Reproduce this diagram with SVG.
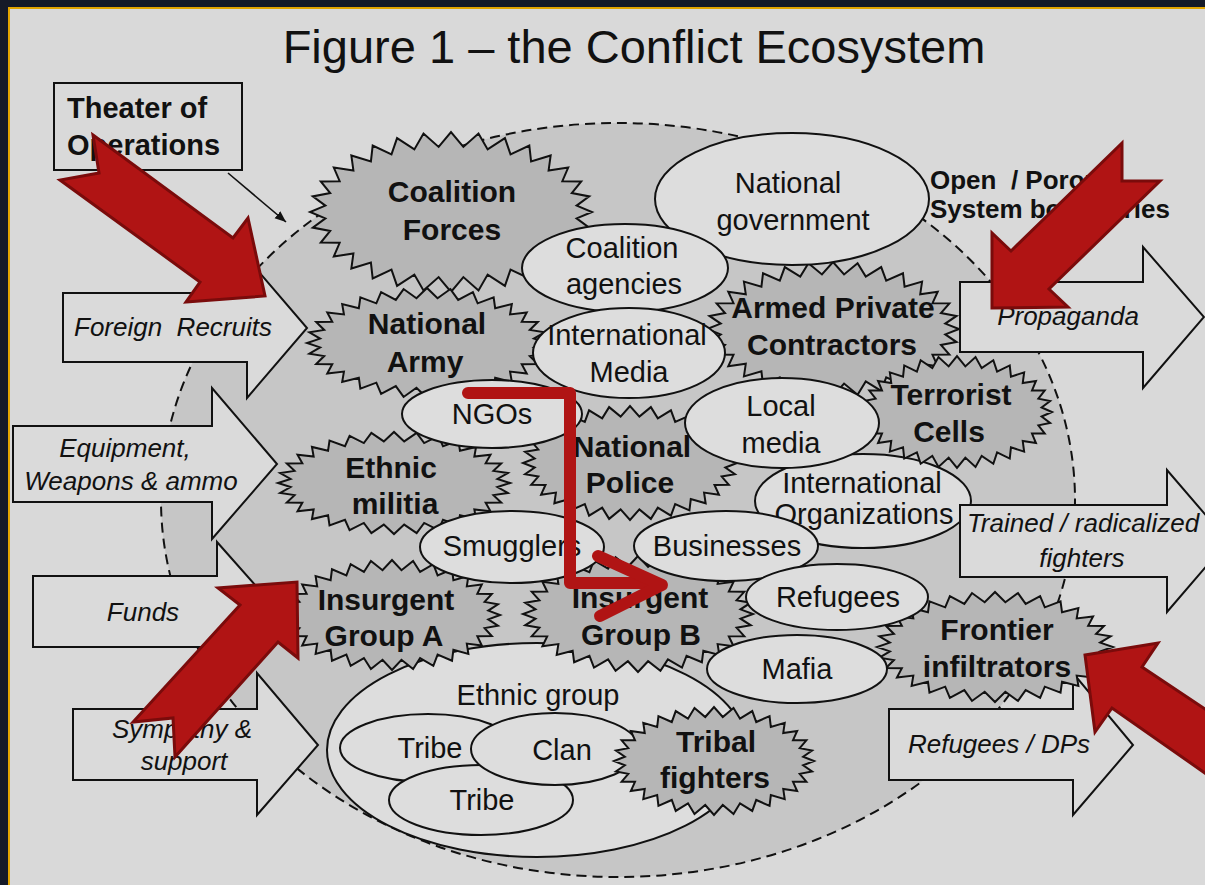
<svg xmlns="http://www.w3.org/2000/svg" width="1205" height="885" viewBox="0 0 1205 885">
<defs>
<style>
.frame{fill:#151a28}
.bg{fill:#d9d9d9;stroke:#e3a500;stroke-width:2}
.sys{fill:#c6c6c6;stroke:#111;stroke-width:2;stroke-dasharray:10 6}
.star{fill:#b6b6b6;stroke:#111;stroke-width:2;vector-effect:non-scaling-stroke}
.ell{fill:#dddddd;stroke:#111;stroke-width:2}
.blk{fill:#dadada;stroke:#111;stroke-width:2}
.box{fill:#d9d9d9;stroke:#111;stroke-width:2}
text{font-family:"Liberation Sans",Arial,sans-serif;fill:#111}
.t{font-size:29px;text-anchor:middle}
.tb{font-size:30px;font-weight:bold;text-anchor:middle}
.ti{font-size:26px;font-style:italic;text-anchor:middle;white-space:pre}
.red{fill:#b01414;stroke:#7a0b0b;stroke-width:3;stroke-linejoin:miter}
.rl{fill:none;stroke:#b01414;stroke-width:12;stroke-linecap:round;stroke-linejoin:round}
.thin{fill:none;stroke:#111;stroke-width:1.6}
</style>
<polygon id="star" class="star" vector-effect="non-scaling-stroke" points="105.5,0 94.04,8.82 103.47,21.46 90.43,26.13 97.47,42.09 83.34,42.43 87.72,61.11 73.05,57.1 74.6,77.78 59.95,69.57 58.61,91.46 44.55,79.37 40.37,101.63 27.43,86.12 20.58,107.89 9.26,89.57 0,110 -9.26,89.57 -20.58,107.89 -27.43,86.12 -40.37,101.63 -44.55,79.37 -58.61,91.46 -59.95,69.57 -74.6,77.78 -73.05,57.1 -87.72,61.11 -83.34,42.43 -97.47,42.09 -90.43,26.13 -103.47,21.46 -94.04,8.82 -105.5,0 -94.04,-8.82 -103.47,-21.46 -90.43,-26.13 -97.47,-42.09 -83.34,-42.43 -87.72,-61.11 -73.05,-57.1 -74.6,-77.78 -59.95,-69.57 -58.61,-91.46 -44.55,-79.37 -40.37,-101.63 -27.43,-86.12 -20.58,-107.89 -9.26,-89.57 0,-110 9.26,-89.57 20.58,-107.89 27.43,-86.12 40.37,-101.63 44.55,-79.37 58.61,-91.46 59.95,-69.57 74.6,-77.78 73.05,-57.1 87.72,-61.11 83.34,-42.43 97.47,-42.09 90.43,-26.13 103.47,-21.46 94.04,-8.82"/>
<marker id="ah" viewBox="0 0 10 8" refX="10" refY="4" markerWidth="7" markerHeight="6" orient="auto">
<path d="M0,0 L10,4 L0,8 z" fill="#111"/>
</marker>
</defs>

<rect class="frame" x="0" y="0" width="1205" height="885"/>
<rect class="bg" x="9" y="8" width="1210" height="890"/>

<text x="634" y="63" font-size="47" text-anchor="middle">Figure 1 – the Conflict Ecosystem</text>

<g id="system-boundary">
<ellipse class="sys" cx="618" cy="500" rx="457" ry="377"/>
</g>

<g id="refugees-dps-flow">
<polygon class="blk" points="889,709 1073,709 1073,673 1133,745 1073,815 1073,780 889,780"/>
<text class="ti" x="999" y="753">Refugees / DPs</text>
</g>

<g id="coalition-forces">
<use href="#star" transform="translate(451,212) scale(1.336,0.727)"/>
<text class="tb" x="452" y="202">Coalition</text>
<text class="tb" x="452" y="240">Forces</text>
</g>

<g id="national-army">
<use href="#star" transform="translate(427,343) scale(1.137,0.5)"/>
<text class="tb" x="427" y="334">National</text>
<text class="tb" x="425" y="372">Army</text>
</g>

<g id="armed-private-contractors">
<use href="#star" transform="translate(833,329) scale(1.194,0.609)"/>
<text class="tb" x="833" y="318">Armed Private</text>
<text class="tb" x="832" y="355">Contractors</text>
</g>

<g id="national-government">
<ellipse class="ell" cx="792" cy="199" rx="137" ry="66"/>
<text class="t" x="788" y="193">National</text>
<text class="t" x="793" y="230">government</text>
</g>

<g id="coalition-agencies">
<ellipse class="ell" cx="625" cy="268" rx="103" ry="44"/>
<text class="t" x="622" y="258">Coalition</text>
<text class="t" x="624" y="294">agencies</text>
</g>

<g id="ethnic-militia">
<use href="#star" transform="translate(394,483) scale(1.1,0.464)"/>
<text class="tb" x="391" y="478">Ethnic</text>
<text class="tb" x="395" y="514">militia</text>
</g>

<g id="national-police">
<use href="#star" transform="translate(630,463) scale(1.014,0.518)"/>
<text class="tb" x="632" y="457">National</text>
<text class="tb" x="630" y="493">Police</text>
</g>

<g id="international-media">
<ellipse class="ell" cx="629" cy="353" rx="96" ry="45"/>
<text class="t" x="627" y="345">International</text>
<text class="t" x="629" y="382">Media</text>
</g>

<g id="international-organizations">
<ellipse class="ell" cx="863" cy="501" rx="108" ry="47"/>
<text class="t" x="862" y="493">International</text>
<text class="t" x="864" y="524">Organizations</text>
</g>

<g id="terrorist-cells">
<use href="#star" transform="translate(957,412) scale(0.9,0.509)"/>
<text class="tb" x="951" y="405">Terrorist</text>
<text class="tb" x="949" y="442">Cells</text>
</g>

<g id="local-media">
<ellipse class="ell" cx="782" cy="423" rx="97" ry="45"/>
<text class="t" x="781" y="416">Local</text>
<text class="t" x="781" y="453">media</text>
</g>

<g id="ngos">
<ellipse class="ell" cx="492" cy="414" rx="90" ry="34"/>
<text class="t" x="492" y="424">NGOs</text>
</g>

<g id="ethnic-group">
<ellipse class="ell" cx="537" cy="750" rx="210" ry="107"/>
<text class="t" x="538" y="705">Ethnic group</text>
</g>

<g id="tribe-1">
<ellipse class="ell" cx="428" cy="748" rx="88" ry="34"/>
<text class="t" x="430" y="758">Tribe</text>
</g>

<g id="tribe-2">
<ellipse class="ell" cx="481" cy="800" rx="92" ry="35"/>
<text class="t" x="482" y="810">Tribe</text>
</g>

<g id="clan">
<ellipse class="ell" cx="555" cy="749" rx="84" ry="36"/>
<text class="t" x="562" y="760">Clan</text>
</g>

<g id="tribal-fighters">
<use href="#star" transform="translate(714,761) scale(0.948,0.491)"/>
<text class="tb" x="716" y="752">Tribal</text>
<text class="tb" x="715" y="788">fighters</text>
</g>

<g id="insurgent-group-a">
<use href="#star" transform="translate(392,615) scale(1.024,0.5)"/>
<text class="tb" x="386" y="610">Insurgent</text>
<text class="tb" x="384" y="646">Group A</text>
</g>

<g id="insurgent-group-b">
<use href="#star" transform="translate(638,614) scale(1.09,0.527)"/>
<text class="tb" x="640" y="608">Insurgent</text>
<text class="tb" x="641" y="645">Group B</text>
</g>

<g id="frontier-infiltrators">
<use href="#star" transform="translate(995,647) scale(1.118,0.5)"/>
<text class="tb" x="997" y="640">Frontier</text>
<text class="tb" x="997" y="677">infiltrators</text>
</g>

<g id="smugglers">
<ellipse class="ell" cx="512" cy="547" rx="92" ry="36"/>
<text class="t" x="512" y="556">Smugglers</text>
</g>

<g id="businesses">
<ellipse class="ell" cx="726" cy="546" rx="92" ry="35"/>
<text class="t" x="727" y="556">Businesses</text>
</g>

<g id="refugees">
<ellipse class="ell" cx="837" cy="597" rx="91" ry="33"/>
<text class="t" x="838" y="607">Refugees</text>
</g>

<g id="mafia">
<ellipse class="ell" cx="797" cy="669" rx="90" ry="34"/>
<text class="t" x="797" y="679">Mafia</text>
</g>

<g id="foreign-recruits">
<polygon class="blk" points="63,293 247,293 247,258 307,328 247,398 247,362 63,362"/>
<text class="ti" x="173" y="336">Foreign  Recruits</text>
</g>

<g id="equipment">
<polygon class="blk" points="13,426 212,426 212,388 277,464 212,539 212,502 13,502"/>
<text class="ti" x="125" y="457">Equipment,</text>
<text class="ti" x="131" y="490">Weapons &amp; ammo</text>
</g>

<g id="funds">
<polygon class="blk" points="33,576 217,576 217,542 279,612 217,682 217,647 33,647"/>
<text class="ti" x="143" y="621">Funds</text>
</g>

<g id="sympathy-support">
<polygon class="blk" points="73,709 257,709 257,673 318,745 257,815 257,780 73,780"/>
<text class="ti" x="182" y="738">Sympathy &amp;</text>
<text class="ti" x="184" y="770">support</text>
</g>

<g id="propaganda">
<polygon class="blk" points="960,282 1143,282 1143,247 1204,317 1143,388 1143,352 960,352"/>
<text class="ti" x="1068" y="325">Propaganda</text>
</g>

<g id="trained-fighters">
<polygon class="blk" points="960,505 1167,505 1167,470 1228,541 1167,612 1167,577 960,577"/>
<text class="ti" x="1083" y="532">Trained / radicalized</text>
<text class="ti" x="1082" y="567">fighters</text>
</g>

<g id="theater-of-operations">
<rect class="box" x="54" y="83" width="188" height="87"/>
<text x="67" y="118" font-size="29" font-weight="bold">Theater of</text>
<text x="67" y="155" font-size="29" font-weight="bold">Operations</text>
</g>

<g id="boundaries-label">
<text x="930" y="189" font-size="26" font-weight="bold" style="white-space:pre">Open  / Porous</text>
<text x="930" y="218" font-size="26" font-weight="bold">System boundaries</text>
</g>

<g id="connectors">
<line class="thin" x1="228" y1="173" x2="286" y2="222" marker-end="url(#ah)"/>
<path class="rl" d="M468,393 H570 V583 H655"/>
<path class="rl" d="M598,556 L662,585 L600,616"/>
</g>

<g id="highlight-arrows">
<polygon class="red" points="93,135 233,238 248,218 265,296 186,302 200,282 60,180 99,173"/>
<polygon class="red" points="1122,143 1011,251 992,233 992,308 1068,307 1049,289 1160,181 1122,181"/>
<polygon class="red" points="297,582 298,658 278,642 175,757 173,718 133,722 240,605 218,588"/>
<polygon class="red" points="1085,655 1158,643 1142,667 1262,747 1232,792 1112,708 1095,732"/>
</g>
</svg>
